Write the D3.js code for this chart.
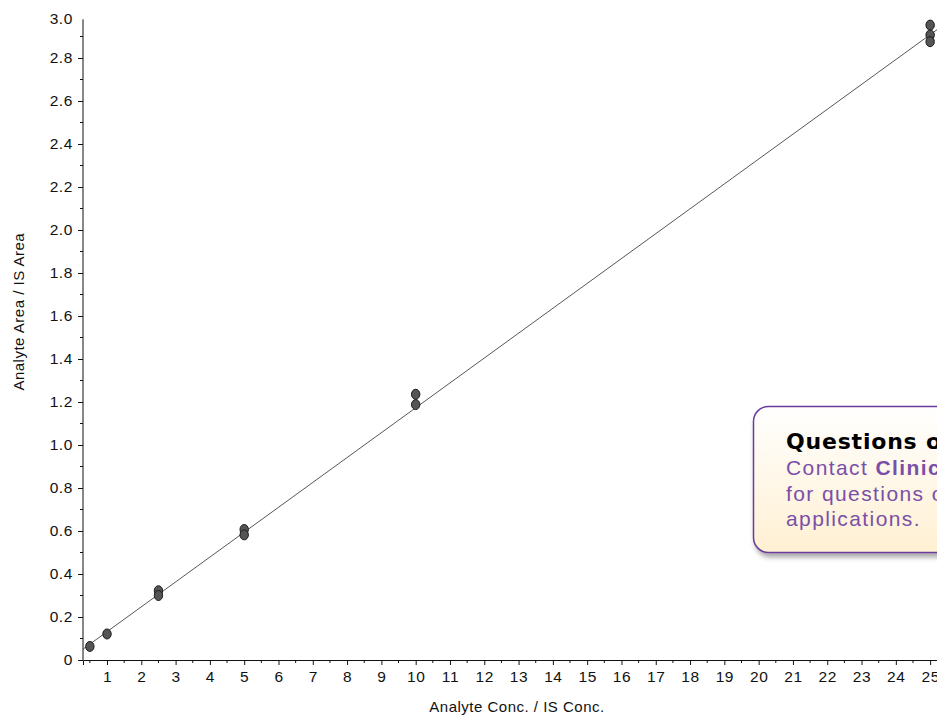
<!DOCTYPE html>
<html>
<head>
<meta charset="utf-8">
<script src="https://cdn.jsdelivr.net/npm/d3@7"></script>
<style>
  html, body { margin: 0; padding: 0; background: #fff; overflow: hidden; }
  svg { display: block; }
  .tick text { font-family: "Liberation Sans", Arial, sans-serif; font-size: 15.5px; letter-spacing: 0.6px; fill: #111; }
  .axis-title { font-family: "Liberation Sans", Arial, sans-serif; font-size: 15px; letter-spacing: 0.5px; fill: #111; }
</style>
</head>
<body>
<svg id="chart" width="937" height="715"></svg>
<script>
// Calibration standards: concentration ratio and measured area ratio
const concLevels = [0.5, 1, 2.5, 2.5, 5, 5, 10, 10, 25, 25, 25];
const areaRatios = [0.063, 0.121, 0.322, 0.300, 0.607, 0.582, 1.236, 1.188, 2.953, 2.907, 2.876];

// Linear fit through the calibration points
const fitSlope = 0.1157;
const fitIntercept = 0.016;

// Axis ticks
const xMajorTicks = d3.range(1, 26);
const xMinorTicks = d3.range(0.5, 25.5, 1);
const yMajorTicks = [0, 0.2, 0.4, 0.6, 0.8, 1.0, 1.2, 1.4, 1.6, 1.8, 2.0, 2.2, 2.4, 2.6, 2.8, 3.0];
const yMinorTicks = d3.range(0.1, 3.0, 0.2);

// Callout text
const calloutTitle = "Questions or comments?";
const calloutLines = [
  [{t: "Contact ", b: false}, {t: "Clinical Support", b: true}],
  [{t: "for questions on methods", b: false}],
  [{t: "applications.", b: false}]
];

const svg = d3.select("#chart");

const x = d3.scaleLinear().domain([0.3, 25.2]).range([83, 937]);
const y = d3.scaleLinear().domain([0, 3]).range([660, 15]);

const axisColor = "#111";

// Y axis
const yAxis = svg.append("g").attr("transform", `translate(${x(0.3)},0)`);
yAxis.call(d3.axisLeft(y).tickValues(yMajorTicks).tickSize(5).tickPadding(5)
  .tickFormat(d => d === 0 ? "0" : d3.format(".1f")(d)));
yAxis.select(".domain").attr("d", `M0,${y(2.98)}V${y(0)}`);
yAxis.selectAll(".tick").filter(d => d === 3.0)
  .attr("transform", `translate(0,${y(2.98)})`).select("line").remove();
yAxis.selectAll(".minor").data(yMinorTicks).enter().append("line")
  .attr("class", "minor").attr("x1", -3).attr("x2", 0)
  .attr("y1", d => y(d)).attr("y2", d => y(d)).attr("stroke", axisColor);
yAxis.selectAll("line, path").attr("stroke", axisColor);

// X axis
const xAxis = svg.append("g").attr("transform", `translate(0,${y(0)})`);
xAxis.call(d3.axisBottom(x).tickValues(xMajorTicks).tickSize(5).tickPadding(6)
  .tickFormat(d3.format("d")));
xAxis.selectAll(".minor").data(xMinorTicks).enter().append("line")
  .attr("class", "minor").attr("y1", 0).attr("y2", 3)
  .attr("x1", d => x(d)).attr("x2", d => x(d)).attr("stroke", axisColor);
xAxis.selectAll("line, path").attr("stroke", axisColor);

// Axis titles
svg.append("text").attr("class", "axis-title")
  .attr("x", 517).attr("y", 712).attr("text-anchor", "middle")
  .text("Analyte Conc. / IS Conc.");
svg.append("text").attr("class", "axis-title")
  .attr("transform", `translate(24,${y(1.62)}) rotate(-90)`)
  .attr("text-anchor", "middle")
  .text("Analyte Area / IS Area");

// Regression line
const fit = d => fitSlope * d + fitIntercept;
svg.append("line")
  .attr("x1", x(0.3)).attr("y1", y(fit(0.3)))
  .attr("x2", x(25.2)).attr("y2", y(fit(25.2)))
  .attr("stroke", "#444").attr("stroke-width", 0.9);

// Calibration points
svg.append("g").selectAll("ellipse")
  .data(concLevels.map((c, i) => ({c, a: areaRatios[i]})))
  .enter().append("ellipse")
  .attr("cx", d => x(d.c)).attr("cy", d => y(d.a))
  .attr("rx", 4.2).attr("ry", 5)
  .attr("fill", "#555").attr("stroke", "#1a1a1a").attr("stroke-width", 1);

// Callout box
const defs = svg.append("defs");
const grad = defs.append("linearGradient").attr("id", "calloutFill")
  .attr("x1", 0).attr("y1", 0).attr("x2", 0).attr("y2", 1);
grad.append("stop").attr("offset", "0%").attr("stop-color", "#ffffff");
grad.append("stop").attr("offset", "100%").attr("stop-color", "#fff0d2");
const shadow = defs.append("filter").attr("id", "calloutShadow")
  .attr("x", "-10%").attr("y", "-10%").attr("width", "130%").attr("height", "130%");
shadow.append("feDropShadow").attr("dx", 2).attr("dy", 4).attr("stdDeviation", 2.5)
  .attr("flood-color", "#000").attr("flood-opacity", 0.35);

const callout = svg.append("g");
callout.append("rect")
  .attr("x", 753.5).attr("y", 406.5).attr("width", 260).attr("height", 146)
  .attr("rx", 15).attr("ry", 15)
  .attr("fill", "url(#calloutFill)").attr("stroke", "#6b3d9a").attr("stroke-width", 1.5)
  .attr("filter", "url(#calloutShadow)");
callout.append("text")
  .attr("x", 786).attr("y", 449)
  .attr("font-family", "'DejaVu Sans', sans-serif").attr("font-weight", 900)
  .attr("font-size", 22).attr("letter-spacing", 0.8).attr("fill", "#000")
  .text(calloutTitle);
calloutLines.forEach((parts, i) => {
  const t = callout.append("text")
    .attr("x", 786).attr("y", 475 + i * 25.5)
    .attr("font-family", "'Liberation Sans', Arial, sans-serif")
    .attr("font-size", 21).attr("letter-spacing", 1.4).attr("fill", "#7a4fa8");
  parts.forEach(p => t.append("tspan").attr("font-weight", p.b ? "bold" : "normal").text(p.t));
});
</script>
</body>
</html>
